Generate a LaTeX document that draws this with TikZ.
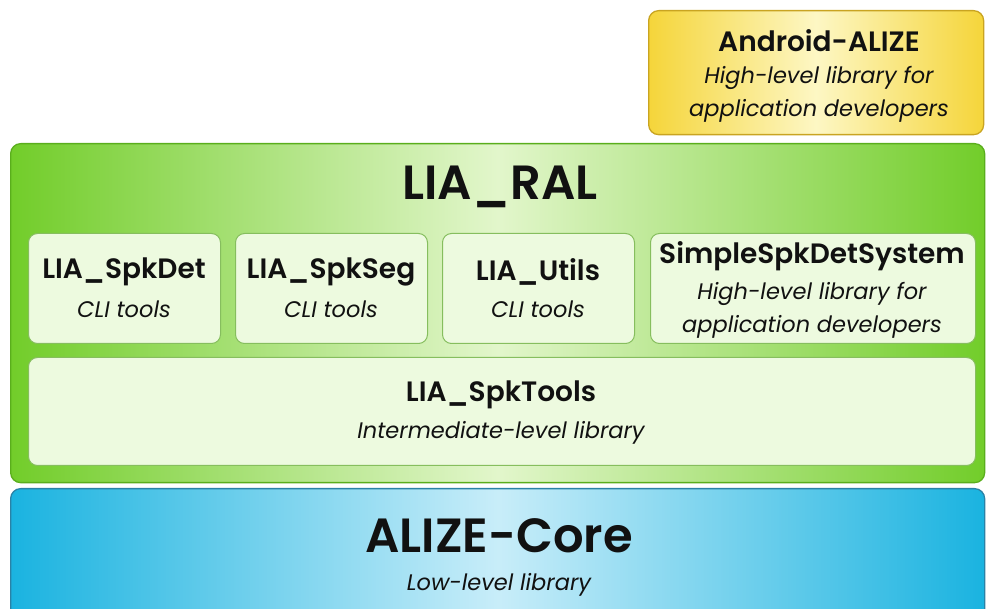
\documentclass[tikz,border=0pt]{standalone}
\usepackage{fontspec}
\setmainfont{Poppins}[BoldFont={Poppins SemiBold},BoldItalicFont={Poppins SemiBold Italic}]
\definecolor{gside}{HTML}{72CD2A}
\definecolor{gmid}{HTML}{E2F6CB}
\definecolor{gdraw}{HTML}{5AAE1C}
\definecolor{bside}{HTML}{1AB3E0}
\definecolor{bmid}{HTML}{C8EDF9}
\definecolor{bdraw}{HTML}{2A82A6}
\definecolor{yside}{HTML}{F5D53A}
\definecolor{ymid}{HTML}{FDF7C4}
\definecolor{ydraw}{HTML}{C9A421}
\definecolor{ifill}{HTML}{EDFADF}
\definecolor{idraw}{HTML}{86BE5E}
\definecolor{txt}{HTML}{111111}
\begin{document}
\begin{tikzpicture}[x=1pt,y=-1pt,
  box/.style={rounded corners=10pt, line width=1.3pt, anchor=north west, inner sep=0pt},
  inner/.style={box, rounded corners=9pt, draw=idraw, fill=ifill, line width=1pt},
  title/.style={text=txt, font=\fontsize{28}{32}\selectfont\bfseries, inner sep=0pt},
  big/.style={text=txt, font=\fontsize{48}{56}\selectfont\bfseries, inner sep=0pt},
  sub/.style={text=txt, font=\fontsize{22.5}{27}\selectfont\itshape, inner sep=0pt}]
\useasboundingbox (0,0) rectangle (986,609);
\clip (0,0) rectangle (986,609);
% boxes
\node[box, draw=ydraw, left color=yside, right color=yside, middle color=ymid,
      minimum width=335pt, minimum height=124pt] (android) at (648,10) {};
\node[box, draw=gdraw, left color=gside, right color=gside, middle color=gmid,
      minimum width=974pt, minimum height=339pt] (liaral) at (10,143) {};
\node[box, draw=bdraw, left color=bside, right color=bside, middle color=bmid,
      minimum width=974pt, minimum height=150pt] (alize) at (10,488) {};
\node[inner, minimum width=192pt, minimum height=110pt] (spkdet) at (28,233) {};
\node[inner, minimum width=192pt, minimum height=110pt] (spkseg) at (235,233) {};
\node[inner, minimum width=192pt, minimum height=110pt] (utils) at (442,233) {};
\node[inner, minimum width=325pt, minimum height=110pt] (simple) at (650,233) {};
\node[inner, minimum width=947pt, minimum height=108pt] (spktools) at (28,357) {};
% texts
\node[title] (tandroid) at (819,41) {Android-ALIZE};
\node[sub] (tandroid2) at (819,78) {High-level library for};
\node[sub] (tandroid3) at (819,111) {application developers};
\node[big] (tliaral) at (500,187) {LIA\_RAL};
\node[title] (tspkdet) at (124,272) {LIA\_SpkDet};
\node[sub] (tspkdet2) at (124,309) {CLI tools};
\node[title] (tspkseg) at (331,272) {LIA\_SpkSeg};
\node[sub] (tspkseg2) at (331,309) {CLI tools};
\node[title] (tutils) at (538,272) {LIA\_Utils};
\node[sub] (tutils2) at (538,309) {CLI tools};
\node[title] (tsimple) at (812,256) {SimpleSpkDetSystem};
\node[sub] (tsimple2) at (812,294) {High-level library for};
\node[sub] (tsimple3) at (812,327) {application developers};
\node[title] (tspktools) at (501,395) {LIA\_SpkTools};
\node[sub] (tspktools2) at (501,433) {Intermediate-level library};
\node[big] (talize) at (499,536) {ALIZE-Core};
\node[sub] (talize2) at (499,585) {Low-level library};
\end{tikzpicture}
\end{document}
